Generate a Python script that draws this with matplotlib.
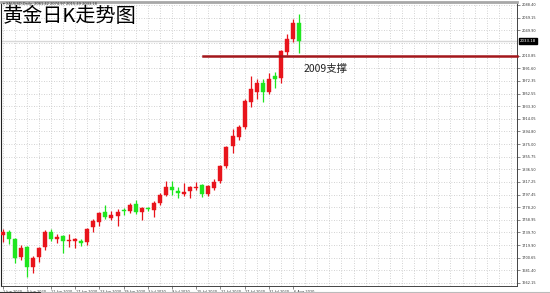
"""黄金日K走势图 - XAUUSD daily candles, Jun-Aug 2020."""

import matplotlib
matplotlib.use("Agg")
import matplotlib.pyplot as plt
import matplotlib.transforms as mtransforms
from matplotlib.patches import Rectangle

plt.rcParams["font.family"] = ["Noto Sans CJK SC", "DejaVu Sans"]

# daily OHLC, 1 Jun 2020 .. 7 Aug 2020
opens = [1735, 1740, 1729, 1702, 1717, 1687, 1702, 1717, 1740, 1730,
         1734, 1726, 1726, 1727, 1725, 1748, 1756, 1771, 1762, 1765,
         1774, 1772, 1783, 1771, 1777, 1774, 1785, 1797, 1809, 1803,
         1799, 1803, 1808, 1812, 1798, 1808, 1818, 1841, 1872, 1886,
         1901, 1940, 1955, 1969, 1955, 1980, 1976, 2016, 2036, 2061.42]
highs = [1745, 1744, 1731, 1720, 1719, 1703, 1718, 1744, 1745, 1738,
         1736, 1737, 1731, 1730, 1747, 1760, 1771, 1781, 1773, 1775,
         1777, 1785, 1790, 1779, 1779, 1788, 1800, 1819, 1818, 1810,
         1815, 1811, 1817, 1814, 1813, 1821, 1843, 1872, 1898, 1905,
         1945, 1980, 1975, 1975, 1984, 1986, 2020, 2044, 2067, 2074.97]
lows = [1725, 1722, 1693, 1698, 1671, 1677, 1694, 1712, 1726, 1724,
        1708, 1718, 1716, 1719, 1721, 1741, 1749, 1760, 1758, 1750,
        1766, 1769, 1768, 1758, 1773, 1764, 1781, 1795, 1797, 1792,
        1795, 1793, 1804, 1794, 1796, 1805, 1815, 1838, 1862, 1881,
        1899, 1932, 1945, 1940, 1952, 1961, 1969, 2011, 2032, 2015.49]
closes = [1740, 1729, 1700, 1716, 1687, 1700, 1716, 1740, 1729, 1733,
          1727, 1728, 1729, 1723, 1745, 1757, 1769, 1763, 1766, 1771,
          1773, 1782, 1771, 1777, 1776, 1785, 1797, 1809, 1805, 1800,
          1802, 1809, 1810, 1798, 1811, 1817, 1841, 1871, 1887, 1901,
          1941, 1960, 1969, 1955, 1975, 1975, 2018, 2036, 2061, 2033.18]

x_labels = ["1 Jun 2020", "5 Jun 2020", "11 Jun 2020", "17 Jun 2020",
            "23 Jun 2020", "29 Jun 2020", "3 Jul 2020", "9 Jul 2020",
            "15 Jul 2020", "21 Jul 2020", "27 Jul 2020", "31 Jul 2020",
            "6 Aug 2020"]
y_ticks = [1662.15, 1681.40, 1700.65, 1719.90, 1739.70, 1758.95, 1778.20,
           1797.45, 1817.25, 1836.50, 1855.75, 1875.00, 1894.80, 1914.05,
           1933.30, 1952.55, 1972.35, 1991.60, 2010.85, 2030.65, 2049.90,
           2069.15, 2088.40]
support = 2009
last_price = 2033.18

UP = "#e8141c"
DOWN = "#1fe61f"
GRID = "#c4c4c4"
SMALL = 2.5  # MT4's tiny axis font

fig = plt.figure(figsize=(5.5, 2.93), dpi=100)
ax = fig.add_axes([1 / 550, 7 / 293, 516 / 550, 284 / 293])
ax.set_xlim(-0.25, 85)
ax.set_ylim(1657.5, 2093)

# dotted grid
for gx in range(0, 86, 2):
    ax.axvline(gx, color=GRID, lw=0.6, ls=(0, (1, 2)), zorder=0)
for gy in y_ticks:
    ax.axhline(gy, color=GRID, lw=0.6, ls=(0, (1, 2)), zorder=0)

# bid line
ax.axhline(last_price, color="#d8d8d8", lw=1.0, zorder=1)

# candles (red = up, green = down)
w = 0.66
for i, (o, h, l, c) in enumerate(zip(opens, highs, lows, closes)):
    col = UP if c >= o else DOWN
    ax.vlines(i, l, h, color=col, lw=0.9, zorder=2)
    lo, hi = min(o, c), max(o, c)
    ax.add_patch(Rectangle((i - w / 2, lo), w, max(hi - lo, 1.2),
                           facecolor=col, edgecolor=col, lw=0.3, zorder=3))

# support line
ax.plot([33.2, 85], [support + 1, support + 1], color="#a3161b", lw=1.8,
        zorder=4, clip_on=False)
ax.text(49.7, support - 19, f"{support}支撑", fontsize=7.5, color="#222222",
        va="center", ha="left", zorder=5)

# price axis on the right
ax.yaxis.tick_right()
shown = [v for v in y_ticks if abs(v - last_price) > 10]
ax.set_yticks(shown)
ax.set_yticklabels([f"{v:.2f}" for v in shown], fontsize=SMALL,
                   color="#333333", family="DejaVu Sans")
ax.tick_params(axis="y", length=2, width=0.5, pad=1.5, color="#555555")

# date axis
ax.set_xticks(range(0, 50, 4))
ax.set_xticklabels(x_labels, fontsize=SMALL, color="#333333", ha="left",
                   family="DejaVu Sans")
ax.tick_params(axis="x", length=2, width=0.5, pad=0.8, color="#555555")
offset = mtransforms.ScaledTranslation(0.5 / 100, 0, fig.dpi_scale_trans)
for lbl in ax.get_xticklabels():
    lbl.set_transform(lbl.get_transform() + offset)

ax.spines["top"].set_color("#a8a8a8")
ax.spines["top"].set_linewidth(2)
ax.spines["left"].set_color("#222222")
ax.spines["left"].set_linewidth(0.8)
ax.spines["right"].set_color("#444444")
ax.spines["right"].set_linewidth(0.7)
ax.spines["bottom"].set_color("#444444")
ax.spines["bottom"].set_linewidth(0.7)

# current price box
ax.annotate(f"{last_price:.2f}", xy=(1.0, last_price),
            xycoords=("axes fraction", "data"), xytext=(2, 0),
            textcoords="offset points", fontsize=SMALL + 0.3, color="white",
            va="center", ha="left", family="DejaVu Sans",
            bbox=dict(boxstyle="square,pad=0.3", fc="black", ec="black"))

# header and title
fig.text(3 / 550, 1 - 4.5 / 293,
         "▾ XAUUSD,Daily  2061.42 2074.97 2015.49 2033.18",
         fontsize=2.6, color="#333333", va="center", ha="left",
         family="DejaVu Sans")
fig.text(3 / 550, 1 - 17 / 293, "黄金日K走势图", fontsize=14.5, color="black",
         va="center", ha="left")

# bottom scroll bar
fig.add_artist(plt.Line2D([0, 40 / 550], [0.8 / 293, 0.8 / 293],
                          color="#333333", lw=0.8))
fig.add_artist(plt.Line2D([41 / 550, 1], [0.8 / 293, 0.8 / 293],
                          color="#bbbbbb", lw=0.8))

fig.savefig("out.png", dpi=100)
